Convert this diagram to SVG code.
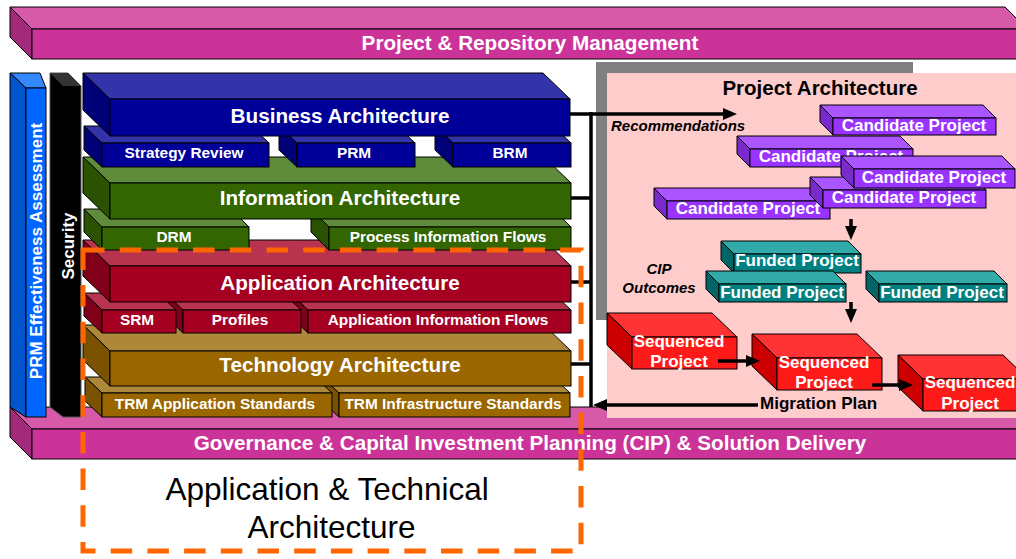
<svg xmlns="http://www.w3.org/2000/svg" width="1016" height="559" viewBox="0 0 1016 559">
  <style>
    .edge { stroke: #000; stroke-width: 1; stroke-linejoin: miter; }
    .lbl { font-family: "Liberation Sans", Arial, sans-serif; font-weight: bold; fill: #fff; text-anchor: middle; }
    .big { font-size: 20.7px; }
    .sub { font-size: 15.4px; }
    .prj { font-size: 17px; }
    .note { font-family: "Liberation Sans", Arial, sans-serif; font-weight: bold; fill: #000; }
    .ital { font-style: italic; font-size: 15px; }
    .conn { stroke: #000; stroke-width: 3.5; fill: none; }
    .mag .t { fill: #D65AA8; } .mag .l { fill: #A32A7A; } .mag .f { fill: #CC3399; }
    .blu .t { fill: #3388FF; } .blu .l { fill: #0055CC; } .blu .f { fill: #0066FF; }
    .biz .t { fill: #3333AA; } .biz .l { fill: #000077; } .biz .f { fill: #000099; }
    .inf .t { fill: #5E8C3A; } .inf .l { fill: #2A5200; } .inf .f { fill: #336600; }
    .app .t { fill: #B8334D; } .app .l { fill: #80001A; } .app .f { fill: #A50021; }
    .tec .t { fill: #AD873A; } .tec .l { fill: #7A5200; } .tec .f { fill: #996600; }
    .cand .t { fill: #AA55FF; } .cand .l { fill: #7A29CC; } .cand .f { fill: #9933FF; }
    .fund .t { fill: #33AAAA; } .fund .l { fill: #006666; } .fund .f { fill: #008080; }
    .seq .t { fill: #FF3333; } .seq .l { fill: #CC0000; } .seq .f { fill: #FF1A1A; }
  </style>
  <defs>
    <marker id="ah" markerUnits="userSpaceOnUse" markerWidth="14" markerHeight="12" refX="2" refY="6" orient="auto">
      <path d="M0,0 L14,6 L0,12 z" fill="#000"/>
    </marker>
  </defs>

  <rect width="1016" height="559" fill="#fff"/>

  <!-- top bar -->
  <g id="prm-repository" class="mag">
    <polygon class="t edge" points="10,7 1005,7 1027,29 32,29"/>
    <polygon class="l edge" points="10,7 32,29 32,59 10,37"/>
    <rect class="f edge" x="32" y="29" width="995" height="30"/>
    <text class="lbl big" x="530" y="50">Project &amp; Repository Management</text>
  </g>

  <!-- bottom bar -->
  <g id="governance" class="mag">
    <polygon class="t edge" points="10,407 1005,407 1027,429 32,429"/>
    <polygon class="l edge" points="10,407 32,429 32,459 10,437"/>
    <rect class="f edge" x="32" y="429" width="995" height="30"/>
    <text class="lbl big" x="530" y="450">Governance &amp; Capital Investment Planning (CIP) &amp; Solution Delivery</text>
  </g>

  <!-- side pillars -->
  <g id="prm-assessment" class="blu">
    <polygon class="t edge" points="10,73 40,73 46,88 26,88"/>
    <polygon class="l edge" points="10,73 26,88 26,417 10,407"/>
    <rect class="f edge" x="26" y="88" width="20" height="329"/>
    <text class="lbl" font-size="17" transform="translate(42,251) rotate(-90)">PRM Effectiveness Assessment</text>
  </g>
  <g id="security">
    <polygon points="50,73 50,407 63,417 81,417 81,86 68,73" fill="#000" stroke="#555" stroke-width="1"/>
    <polygon points="50,73 68,73 81,86 63,86" fill="#333"/>
    <text class="lbl" font-size="17" transform="translate(74,246) rotate(-90)">Security</text>
  </g>

  <!-- architecture layers, bottom-most drawn first -->
  <g id="trm-infra" class="tec">
    <polygon class="t edge" points="322,377 553,377 570,393 339,393"/>
    <polygon class="l edge" points="322,377 339,393 339,417 322,401"/>
    <rect class="f edge" x="339" y="393" width="231" height="24"/>
    <text class="lbl sub" x="453" y="408.5">TRM Infrastructure Standards</text>
  </g>
  <g id="trm-app" class="tec">
    <polygon class="t edge" points="85,377 315,377 332,393 102,393"/>
    <polygon class="l edge" points="85,377 102,393 102,417 85,401"/>
    <rect class="f edge" x="102" y="393" width="230" height="24"/>
    <text class="lbl sub" x="215" y="408.5">TRM Application Standards</text>
  </g>
  <g id="technology" class="tec">
    <polygon class="t edge" points="83,325 544,325 571,351 110,351"/>
    <polygon class="l edge" points="83,325 110,351 110,386 83,360"/>
    <rect class="f edge" x="110" y="351" width="461" height="35"/>
    <text class="lbl big" x="340" y="372">Technology Architecture</text>
  </g>

  <g id="app-info-flows" class="app">
    <polygon class="t edge" points="290,293 553,293 571,310 308,310"/>
    <polygon class="l edge" points="290,293 308,310 308,333 290,316"/>
    <rect class="f edge" x="308" y="310" width="263" height="23"/>
    <text class="lbl sub" x="438" y="325">Application Information Flows</text>
  </g>
  <g id="profiles" class="app">
    <polygon class="t edge" points="165,293 283,293 301,310 183,310"/>
    <polygon class="l edge" points="165,293 183,310 183,333 165,316"/>
    <rect class="f edge" x="183" y="310" width="118" height="23"/>
    <text class="lbl sub" x="240" y="325">Profiles</text>
  </g>
  <g id="srm" class="app">
    <polygon class="t edge" points="84,293 158,293 176,310 102,310"/>
    <polygon class="l edge" points="84,293 102,310 102,333 84,316"/>
    <rect class="f edge" x="102" y="310" width="74" height="23"/>
    <text class="lbl sub" x="137" y="325">SRM</text>
  </g>
  <g id="application" class="app">
    <polygon class="t edge" points="83,240 544,240 571,266 110,266"/>
    <polygon class="l edge" points="83,240 110,266 110,302 83,276"/>
    <rect class="f edge" x="110" y="266" width="461" height="36"/>
    <text class="lbl big" x="340" y="290">Application Architecture</text>
  </g>

  <g id="process-info-flows" class="inf">
    <polygon class="t edge" points="311,209 553,209 571,227 329,227"/>
    <polygon class="l edge" points="311,209 329,227 329,250 311,232"/>
    <rect class="f edge" x="329" y="227" width="242" height="23"/>
    <text class="lbl sub" x="448" y="242">Process Information Flows</text>
  </g>
  <g id="drm" class="inf">
    <polygon class="t edge" points="84,209 231,209 249,227 102,227"/>
    <polygon class="l edge" points="84,209 102,227 102,250 84,232"/>
    <rect class="f edge" x="102" y="227" width="147" height="23"/>
    <text class="lbl sub" x="174" y="242">DRM</text>
  </g>
  <g id="information" class="inf">
    <polygon class="t edge" points="83,157 544,157 571,183 110,183"/>
    <polygon class="l edge" points="83,157 110,183 110,219 83,193"/>
    <rect class="f edge" x="110" y="183" width="461" height="36"/>
    <text class="lbl big" x="340" y="205">Information Architecture</text>
  </g>

  <g id="brm" class="biz">
    <polygon class="t edge" points="435,126 553,126 571,143 453,143"/>
    <polygon class="l edge" points="435,126 453,143 453,167 435,150"/>
    <rect class="f edge" x="453" y="143" width="118" height="24"/>
    <text class="lbl sub" x="510" y="158">BRM</text>
  </g>
  <g id="prm" class="biz">
    <polygon class="t edge" points="279,126 397,126 415,143 297,143"/>
    <polygon class="l edge" points="279,126 297,143 297,167 279,150"/>
    <rect class="f edge" x="297" y="143" width="118" height="24"/>
    <text class="lbl sub" x="354" y="158">PRM</text>
  </g>
  <g id="strategy-review" class="biz">
    <polygon class="t edge" points="84,126 251,126 269,143 102,143"/>
    <polygon class="l edge" points="84,126 102,143 102,167 84,150"/>
    <rect class="f edge" x="102" y="143" width="167" height="24"/>
    <text class="lbl sub" x="184" y="158">Strategy Review</text>
  </g>
  <g id="business" class="biz">
    <polygon class="t edge" points="83,73 543,73 570,99 110,99"/>
    <polygon class="l edge" points="83,73 110,99 110,136 83,110"/>
    <rect class="f edge" x="110" y="99" width="460" height="37"/>
    <text class="lbl big" x="340" y="123">Business Architecture</text>
  </g>

  <!-- project architecture panel -->
  <g id="project-architecture">
    <rect x="596" y="62" width="317" height="258" fill="#808080"/>
    <rect x="607" y="73" width="420" height="345" fill="#FFCCCC"/>
    <text class="note" font-size="20.5" x="820" y="95" text-anchor="middle">Project Architecture</text>
    <text class="note ital" x="611" y="131">Recommendations</text>
    <text class="note ital" x="659" y="274" text-anchor="middle">CIP</text>
    <text class="note ital" x="659" y="293" text-anchor="middle">Outcomes</text>
    <text class="note" font-size="17" x="760" y="409">Migration Plan</text>
  </g>

  <g id="candidate-1" class="cand">
    <polygon class="t edge" points="820,105 983,105 996,118 833,118"/>
    <polygon class="l edge" points="820,105 833,118 833,135 820,122"/>
    <rect class="f edge" x="833" y="118" width="163" height="17"/>
    <text class="lbl prj" x="914" y="131">Candidate Project</text>
  </g>
  <g id="candidate-2" class="cand">
    <polygon class="t edge" points="737,136 900,136 913,149 750,149"/>
    <polygon class="l edge" points="737,136 750,149 750,167 737,154"/>
    <rect class="f edge" x="750" y="149" width="163" height="18"/>
    <text class="lbl prj" x="831" y="162">Candidate Project</text>
  </g>
  <g id="candidate-5" class="cand">
    <polygon class="t edge" points="654,188 817,188 830,201 667,201"/>
    <polygon class="l edge" points="654,188 667,201 667,219 654,206"/>
    <rect class="f edge" x="667" y="201" width="163" height="18"/>
    <text class="lbl prj" x="748" y="214">Candidate Project</text>
  </g>
  <g id="candidate-4" class="cand">
    <polygon class="t edge" points="810,177 973,177 986,190 823,190"/>
    <polygon class="l edge" points="810,177 823,190 823,208 810,195"/>
    <rect class="f edge" x="823" y="190" width="163" height="18"/>
    <text class="lbl prj" x="904" y="203">Candidate Project</text>
  </g>
  <g id="candidate-3" class="cand">
    <polygon class="t edge" points="841,156 1002,156 1015,169 854,169"/>
    <polygon class="l edge" points="841,156 854,169 854,188 841,175"/>
    <rect class="f edge" x="854" y="169" width="161" height="19"/>
    <text class="lbl prj" x="934" y="183">Candidate Project</text>
  </g>

  <g id="funded-1" class="fund">
    <polygon class="t edge" points="721,241 848,241 861,254 734,254"/>
    <polygon class="l edge" points="721,241 734,254 734,273 721,260"/>
    <rect class="f edge" x="734" y="254" width="127" height="19"/>
    <text class="lbl prj" x="797" y="266">Funded Project</text>
  </g>
  <g id="funded-2" class="fund">
    <polygon class="t edge" points="706,271 833,271 846,284 719,284"/>
    <polygon class="l edge" points="706,271 719,284 719,302 706,289"/>
    <rect class="f edge" x="719" y="284" width="127" height="18"/>
    <text class="lbl prj" x="782" y="298">Funded Project</text>
  </g>
  <g id="funded-3" class="fund">
    <polygon class="t edge" points="866,271 994,271 1007,284 879,284"/>
    <polygon class="l edge" points="866,271 879,284 879,302 866,289"/>
    <rect class="f edge" x="879" y="284" width="128" height="18"/>
    <text class="lbl prj" x="942" y="298">Funded Project</text>
  </g>

  <g id="sequenced-1" class="seq">
    <polygon class="t edge" points="607,313 712,313 737,337 632,337"/>
    <polygon class="l edge" points="607,313 632,337 632,369 607,345"/>
    <rect class="f edge" x="632" y="337" width="105" height="32"/>
    <text class="lbl prj" x="679" y="347">Sequenced</text>
    <text class="lbl prj" x="679" y="367">Project</text>
  </g>
  <g id="sequenced-2" class="seq">
    <polygon class="t edge" points="752,334 857,334 882,358 777,358"/>
    <polygon class="l edge" points="752,334 777,358 777,390 752,366"/>
    <rect class="f edge" x="777" y="358" width="105" height="32"/>
    <text class="lbl prj" x="824" y="368">Sequenced</text>
    <text class="lbl prj" x="824" y="388">Project</text>
  </g>
  <g id="sequenced-3" class="seq">
    <polygon class="t edge" points="898,355 1003,355 1028,379 923,379"/>
    <polygon class="l edge" points="898,355 923,379 923,411 898,387"/>
    <rect class="f edge" x="923" y="379" width="105" height="32"/>
    <text class="lbl prj" x="970" y="388">Sequenced</text>
    <text class="lbl prj" x="970" y="409">Project</text>
  </g>

  <!-- connectors -->
  <g id="connectors">
    <polyline class="conn" points="591,112 591,407"/>
    <line class="conn" x1="571" y1="198" x2="591" y2="198"/>
    <line class="conn" x1="571" y1="282" x2="591" y2="282"/>
    <line class="conn" x1="571" y1="364" x2="591" y2="364"/>
    <line class="conn" x1="570" y1="114" x2="725" y2="114" marker-end="url(#ah)"/>
    <line class="conn" x1="758" y1="405" x2="605" y2="405" marker-end="url(#ah)"/>
    <line class="conn" x1="851" y1="219" x2="851" y2="228" marker-end="url(#ah)"/>
    <line class="conn" x1="851" y1="302" x2="851" y2="311" marker-end="url(#ah)"/>
    <line class="conn" x1="718" y1="361" x2="748" y2="361" marker-end="url(#ah)"/>
    <line class="conn" x1="872" y1="385" x2="901" y2="385" marker-end="url(#ah)"/>
  </g>

  <!-- application & technical architecture outline -->
  <g id="app-tech-scope">
    <rect x="83" y="250" width="498" height="301" fill="none" stroke="#FF6600" stroke-width="5" stroke-dasharray="21.5 15.2"/>
    <text font-family="'Liberation Sans', Arial, sans-serif" font-size="31.5" fill="#000" text-anchor="middle">
      <tspan x="331.5" y="500">Application &amp; Technical</tspan>
      <tspan x="331.5" y="538">Architecture</tspan>
    </text>
  </g>
</svg>
